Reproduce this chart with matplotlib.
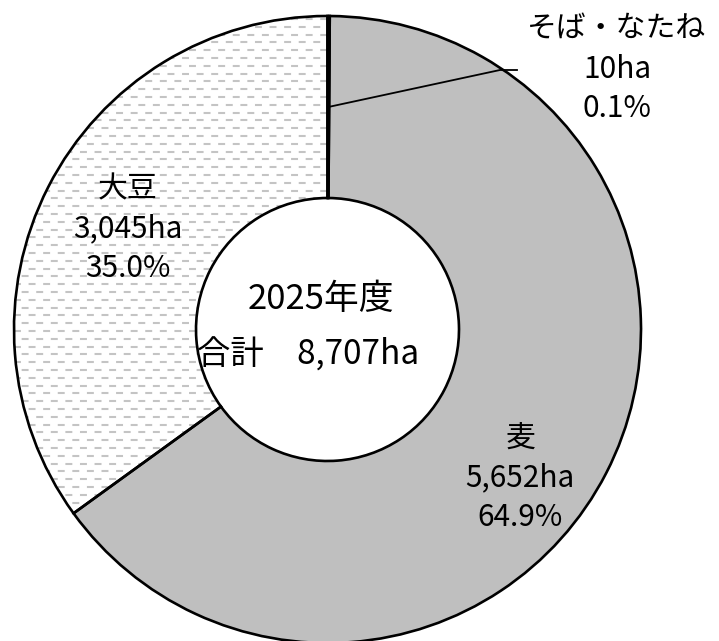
import numpy as np
import matplotlib.pyplot as plt
from matplotlib.lines import Line2D
from matplotlib.patches import Wedge

plt.rcParams['font.family'] = ['Noto Sans CJK JP', 'DejaVu Sans']
plt.rcParams['lines.scale_dashes'] = False

# データ（2025年度 作付面積）
crops = ['そば・なたね', '麦', '大豆']
areas = [10, 5652, 3045]          # ha
shares = [0.1, 64.9, 35.0]        # %
year_label = '2025年度'
total = sum(areas)

W, H = 719, 641
fig = plt.figure(figsize=(W / 100, H / 100), dpi=100)
ax = fig.add_axes([0, 0, 1, 1])

cx, cy = 327.5, H - 329.5
r_out, r_in = 313.5, 131.5

wedges, _ = ax.pie(areas, center=(cx, cy), radius=r_out, startangle=90,
                   counterclock=False, colors=['#bfbfbf', '#bfbfbf', 'white'],
                   wedgeprops=dict(width=r_out - r_in, linewidth=0))

# 大豆: 破線のハッチング
soy = wedges[2]
ys = np.arange(cy - r_out, cy + r_out, 7.8)
for i, y in enumerate(ys):
    off = 0 if i % 2 == 0 else 5.0
    ln = Line2D([cx - r_out, cx + 5], [y, y], color='#c4c4c4', lw=1.5,
                linestyle=(off, (5.0, 5.5)), zorder=1.5)
    ax.add_line(ln)
    ln.set_clip_path(soy)
for w in wedges:
    w.set_zorder(1)
# 輪郭を上に描画
for w in wedges:
    ax.add_patch(Wedge(w.center, w.r, w.theta1, w.theta2, width=w.width,
                       fill=False, edgecolor='black', lw=1.9, zorder=2))

# そば・なたね の引き出し線
th = np.deg2rad((wedges[0].theta1 + wedges[0].theta2) / 2)
r_mid = (r_out + r_in) / 2
sx, sy = cx + r_mid * np.cos(th), cy + r_mid * np.sin(th)
ax.plot([sx, 500, 517], [sy, H - 70, H - 70], color='black', lw=1.3, zorder=3)

label_pos = [(617, H - 69), (520, H - 478), (128, H - 229)]
for name, a, s, (x, y) in zip(crops, areas, shares, label_pos):
    ax.text(x, y, f'{name}\n{a:,}ha\n{s:.1f}%', ha='center', va='center',
            multialignment='center', fontsize=21.5, linespacing=1.36, zorder=4)

ax.text(cx - 7, H - 300, year_label, ha='center', va='center', fontsize=25,
        zorder=4)
ax.text(cx - 19, H - 355, f'合計　{total:,}ha', ha='center', va='center',
        fontsize=24, zorder=4)

ax.set_xlim(0, W)
ax.set_ylim(0, H)
ax.set_aspect('equal')
ax.axis('off')

fig.savefig('out.png', dpi=100)
